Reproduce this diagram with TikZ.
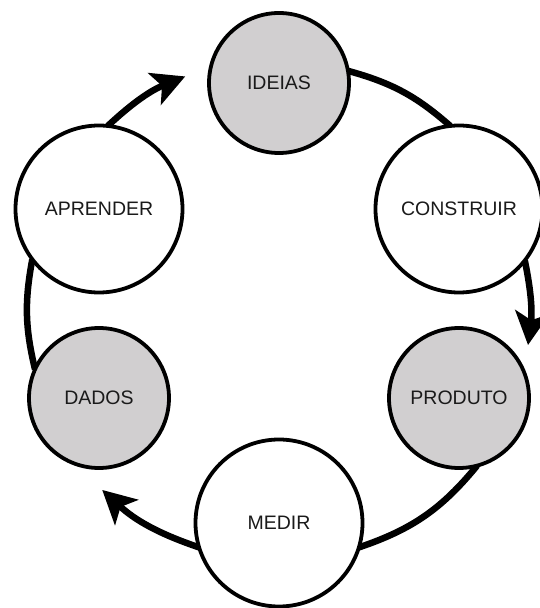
\documentclass[tikz,border=0pt]{standalone}
\usepackage{fontspec}
\setmainfont{Liberation Sans}
\usetikzlibrary{arrows.meta,backgrounds}
\definecolor{stagegray}{RGB}{209,207,208}
\definecolor{labelink}{RGB}{26,26,26}
\begin{document}
\begin{tikzpicture}[x=1pt,y=1pt,
  stage/.style={circle, draw=black, line width=3.8pt, fill=white,
    inner sep=0pt, outer sep=0pt,
    font=\fontsize{19.5}{22}\selectfont, text=labelink},
  big/.style={stage, minimum size=167pt},
  small/.style={stage, minimum size=140pt},
  key/.style={fill=stagegray},
  flow/.style={line width=6.5pt, draw=black},
  flowtip/.style={flow, -{Stealth[length=33pt,width=34pt,inset=8pt]}}]
\useasboundingbox (0,0) rectangle (539,608);

% the six stages of the cycle
\node[small,key] (ideias)    at (279,525) {IDEIAS};
\node[big]       (construir) at (459,399) {CONSTRUIR};
\node[small,key] (produto)   at (459,210) {PRODUTO};
\node[big]       (medir)     at (279,85)  {MEDIR};
\node[small,key] (dados)     at (99,210)  {DADOS};
\node[big]       (aprender)  at (99,399)  {APRENDER};

% clockwise arcs between the stages, drawn underneath the circles
\begin{scope}[on background layer]
  \fill[white] (0,0) rectangle (539,608);
  \draw[flow]    (ideias.10)    to[bend left=13]   (construir.96);
  \draw[flowtip] (construir.-38) to[bend left=9.5] ([shift={(37.5:87)}]produto.center);
  \draw[flow]    (produto.-75)  to[bend left=16]   (medir.-17);
  \draw[flowtip] (medir.-163)   to[bend left=12]   ([shift={(-88:92)}]dados.center);
  \draw[flow]    (dados.156)    to[bend left=12]   (aprender.217);
  \draw[flowtip] (aprender.84)  to[bend left=10.5] ([shift={(176:94)}]ideias.center);
\end{scope}
\end{tikzpicture}
\end{document}
